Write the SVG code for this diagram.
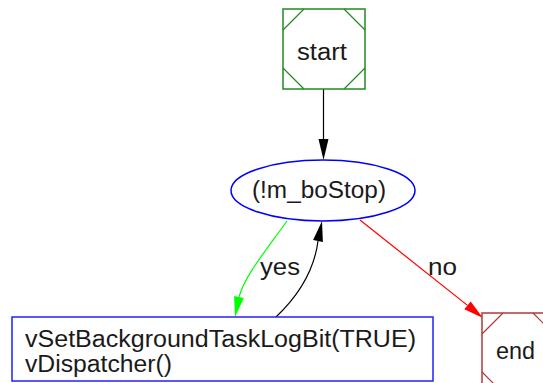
<svg xmlns="http://www.w3.org/2000/svg" width="543" height="383" viewBox="0 0 543 383">
  <style>
    text { font-family: "Liberation Sans", Arial, sans-serif; font-size: 23px; fill: #1a1a1a; }
    .node { fill: #ffffff; stroke-width: 1.5; }
    .edge { fill: none; stroke-width: 1.2; }
  </style>
  <rect width="543" height="383" fill="#ffffff"/>

  <!-- connectors -->
  <g id="edges">
    <g id="edge-start-cond">
      <path class="edge" stroke="#000000" d="M323.5,89 L323.5,140"/>
      <polygon points="318.5,139 328.5,139 323.5,160" fill="#000000"/>
    </g>
    <g id="edge-cond-body">
      <path class="edge" stroke="#00ff00" d="M287,221 C268,248 245,275 239,297"/>
      <polygon points="243.9,298 234.1,296 235,317" fill="#00ff00"/>
      <text x="260" y="275" textLength="40" lengthAdjust="spacingAndGlyphs">yes</text>
    </g>
    <g id="edge-body-cond">
      <path class="edge" stroke="#000000" d="M276,317 C296,298 314,272 318,241"/>
      <polygon points="322.9,242 313.1,240 322,221" fill="#000000"/>
    </g>
    <g id="edge-cond-end">
      <path class="edge" stroke="#ff0000" d="M360,220 L467.5,305.4"/>
      <polygon points="464.3,309.3 470.7,301.5 483,318" fill="#ff0000"/>
      <text x="428" y="275" textLength="29" lengthAdjust="spacingAndGlyphs">no</text>
    </g>
  </g>

  <!-- start node: square with clipped corner marks -->
  <g id="start">
    <rect class="node" x="283" y="9" width="82" height="80" stroke="#228b22"/>
    <path fill="none" stroke="#228b22" stroke-width="1.2"
          d="M283,30 L304,9 M344,9 L365,30 M365,68 L344,89 M304,89 L283,68"/>
    <text x="297" y="60" textLength="50" lengthAdjust="spacingAndGlyphs">start</text>
  </g>

  <!-- loop condition -->
  <g id="cond">
    <ellipse class="node" cx="323" cy="190.5" rx="92" ry="30.5" stroke="#0000ff"/>
    <text x="252" y="198" textLength="134" lengthAdjust="spacingAndGlyphs">(!m_boStop)</text>
  </g>

  <!-- loop body -->
  <g id="body">
    <rect class="node" x="12" y="317" width="421" height="64" stroke="#2020ff"/>
    <text x="25" y="347" textLength="391" lengthAdjust="spacingAndGlyphs">vSetBackgroundTaskLogBit(TRUE)</text>
    <text x="25" y="372" textLength="147" lengthAdjust="spacingAndGlyphs">vDispatcher()</text>
  </g>

  <!-- end node -->
  <g id="end">
    <rect class="node" x="482" y="313" width="72" height="80" stroke="#b03a3a"/>
    <path fill="none" stroke="#b03a3a" stroke-width="1.2"
          d="M482,334 L503,313 M533,313 L554,334 M482,372 L503,393"/>
    <text x="496" y="359" textLength="39" lengthAdjust="spacingAndGlyphs">end</text>
  </g>
</svg>
